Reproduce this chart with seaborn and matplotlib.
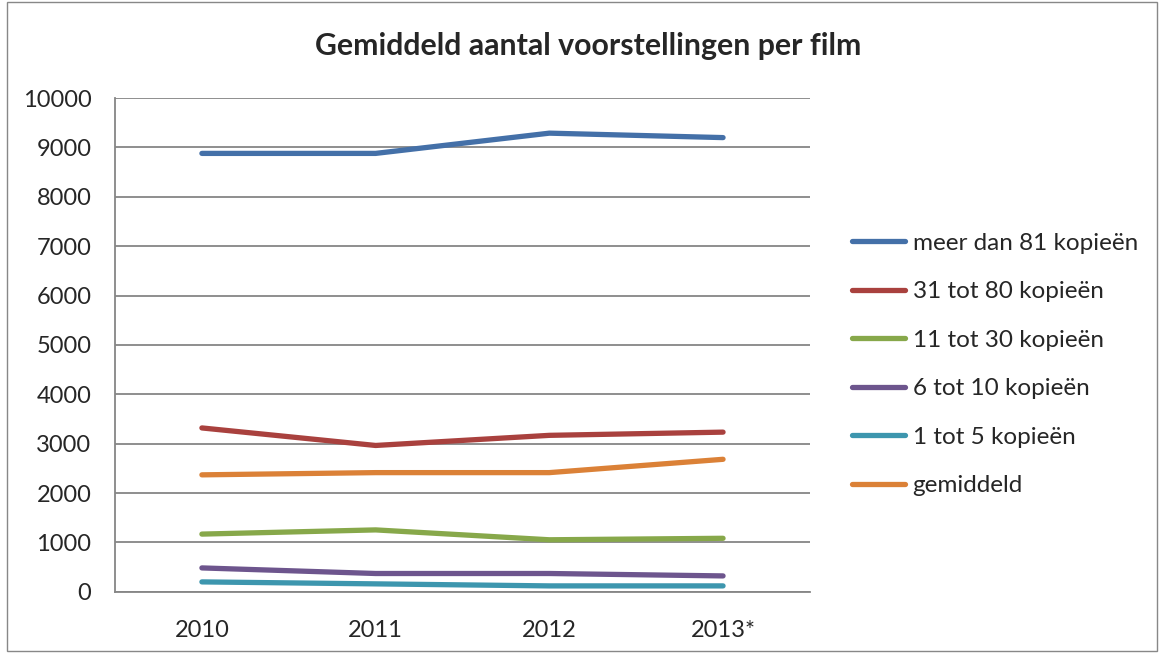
import pandas as pd
import matplotlib.pyplot as plt
import seaborn as sns

# Data
years = ["2010", "2011", "2012", "2013*"]
meer_dan_81 = [8880, 8880, 9290, 9200]
tot_80 = [3320, 2965, 3170, 3235]
tot_30 = [1170, 1255, 1055, 1085]
tot_10 = [485, 372, 372, 323]
tot_5 = [202, 162, 121, 121]
gemiddeld = [2370, 2415, 2415, 2685]

series_names = ["meer dan 81 kopieën", "31 tot 80 kopieën", "11 tot 30 kopieën",
                "6 tot 10 kopieën", "1 tot 5 kopieën", "gemiddeld"]
series_values = [meer_dan_81, tot_80, tot_30, tot_10, tot_5, gemiddeld]
colors = ["#4470a8", "#a9413e", "#87a84a", "#6d558d", "#3d96ae", "#db8137"]

rows = []
for name, vals in zip(series_names, series_values):
    for i, v in enumerate(vals):
        rows.append({"x": i, "jaar": years[i], "waarde": v, "reeks": name})
df = pd.DataFrame(rows)

sns.set_style("white")
plt.rcParams["font.family"] = ["Lato", "DejaVu Sans"]

fig = plt.figure(figsize=(11.62, 6.54), dpi=100)
ax = fig.add_axes([0.099, 0.095, 0.598, 0.755])

sns.lineplot(data=df, x="x", y="waarde", hue="reeks", hue_order=series_names,
             palette=colors, linewidth=3.8, ax=ax, solid_capstyle="round",
             legend=True)

# axes styling (Excel look)
grid_col = "#868686"
ax.set_ylim(0, 10000)
ax.set_yticks(range(0, 10001, 1000))
ax.yaxis.grid(True, color=grid_col, linewidth=1.3)
ax.set_axisbelow(True)
ax.set_xlim(-0.5, 3.5)
ax.set_xticks([-0.5, 0.5, 1.5, 2.5, 3.5])
ax.set_xticklabels([])
ax.set_xticks(range(len(years)), minor=True)
ax.set_xticklabels(years, minor=True)
ax.tick_params(axis="x", which="major", length=7, width=1.3, color=grid_col, direction="out")
ax.tick_params(axis="x", which="minor", length=0, labelsize=17, pad=20)
ax.tick_params(axis="y", length=7, width=1.3, color=grid_col, direction="out", labelsize=17, pad=10)
for s in ["top", "right"]:
    ax.spines[s].set_visible(False)
for s in ["left", "bottom"]:
    ax.spines[s].set_color(grid_col)
    ax.spines[s].set_linewidth(1.3)
ax.set_xlabel("")
ax.set_ylabel("")

fig.text(0.506, 0.93, "Gemiddeld aantal voorstellingen per film", ha="center",
         va="center", fontsize=21.8, fontweight="bold")

leg = ax.legend(loc="upper left", bbox_to_anchor=(0.733, 0.644), bbox_transform=fig.transFigure,
                frameon=False, fontsize=17.5, handlelength=2.2, labelspacing=1.13,
                handletextpad=0.3, borderaxespad=0, borderpad=0)
for line in leg.get_lines():
    line.set_linewidth(3.8)
    line.set_solid_capstyle("round")

# chart border
fig.patches.append(plt.Rectangle((0.006, 0.004), 0.99, 0.993, transform=fig.transFigure,
                                 fill=False, edgecolor="#888888", linewidth=1))

fig.savefig("out.png", dpi=100)
